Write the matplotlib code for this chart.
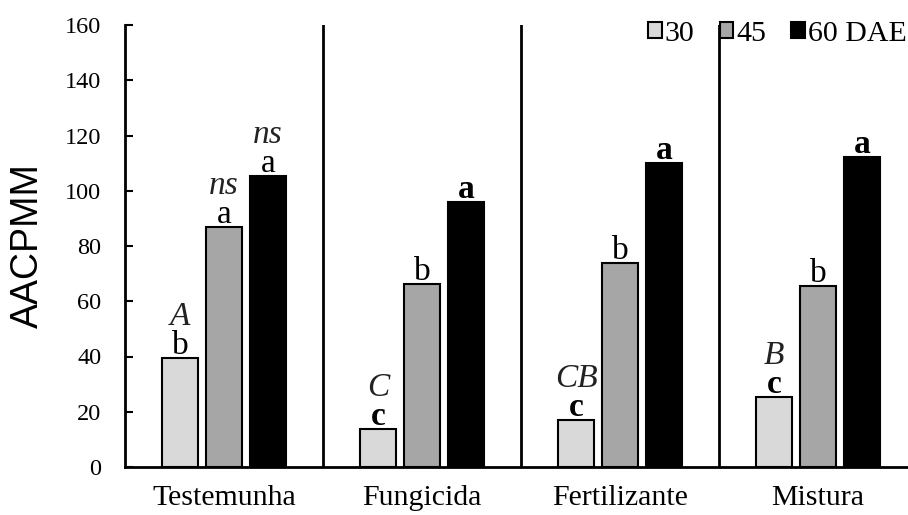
import matplotlib
matplotlib.use("Agg")
import matplotlib.pyplot as plt
import numpy as np

# ---- data ----
groups = ["Testemunha", "Fungicida", "Fertilizante", "Mistura"]
series = ["30", "45", "60 DAE"]
v30 = [39.5, 13.8, 17.0, 25.3]
v45 = [86.9, 66.2, 73.8, 65.5]
v60 = [105.3, 95.9, 110.0, 112.2]

# letters right above each bar (lower-case) and the italic line above that
lab30 = ["b", "c", "c", "c"]
lab45 = ["a", "b", "b", "b"]
lab60 = ["a", "a", "a", "a"]
top30 = ["A", "C", "CB", "B"]
top45 = ["ns", "", "", ""]
top60 = ["ns", "", "", ""]

colors = ["#d9d9d9", "#a6a6a6", "#000000"]
SERIF = ["Liberation Serif", "DejaVu Serif"]

fig = plt.figure(figsize=(9.08, 5.15), dpi=100)
ax = fig.add_axes([125 / 908, 1 - 467 / 515, 783 / 908, 442 / 515])

x = np.arange(len(groups))
off = 0.222
w = 0.18
values = [v30, v45, v60]
lows = [lab30, lab45, lab60]
tops = [top30, top45, top60]

for i, (vals, col) in enumerate(zip(values, colors)):
    xs = x + (i - 1) * off
    ax.bar(xs, vals, width=w, color=col, edgecolor="black", linewidth=1.5,
           label=series[i], zorder=3)
    for j, (xx, v) in enumerate(zip(xs, vals)):
        bold = (lows[i][j] == "c") or (i == 2 and j > 0)
        ax.annotate(lows[i][j], (xx, v), xytext=(0, 3), textcoords="offset points",
                    ha="center", va="baseline", fontsize=24, family=SERIF,
                    fontweight="bold" if bold else "normal")
        if tops[i][j]:
            ax.annotate(tops[i][j], (xx, v), xytext=(0, 24), textcoords="offset points",
                        ha="center", va="baseline", fontsize=24, family=SERIF,
                        style="italic", color="#222222")

# group separators
for s in [0.5, 1.5, 2.5]:
    ax.axvline(s, ymin=0, ymax=1, color="black", lw=2, zorder=2)

ax.set_xlim(-0.5, 3.455)
ax.set_ylim(0, 160)
ax.set_yticks(range(0, 161, 20))
ax.set_xticks(x)
ax.set_xticklabels(groups, family=SERIF, fontsize=21.5)
for t in ax.get_yticklabels():
    t.set_family(SERIF)
    t.set_fontsize(17.5)

ax.tick_params(axis="y", direction="in", length=6, width=1.5, pad=17)
ax.tick_params(axis="x", length=0, pad=13)
for side in ["top", "right"]:
    ax.spines[side].set_visible(False)
ax.spines["left"].set_linewidth(2)
ax.spines["bottom"].set_linewidth(2)

ax.set_ylabel("AACPMM", fontsize=27, family=["Liberation Sans", "DejaVu Sans"])
ax.yaxis.set_label_coords(-0.101, 0.5)

fig.legend(loc="center right", bbox_to_anchor=(1.0, 1 - 34 / 515), ncol=3,
           frameon=False, prop={"family": SERIF, "size": 21.5},
           handlelength=0.45, handleheight=0.45, handletextpad=0.1,
           columnspacing=0.85, borderpad=0.05, borderaxespad=0.0)

fig.savefig("out.png", dpi=100)
